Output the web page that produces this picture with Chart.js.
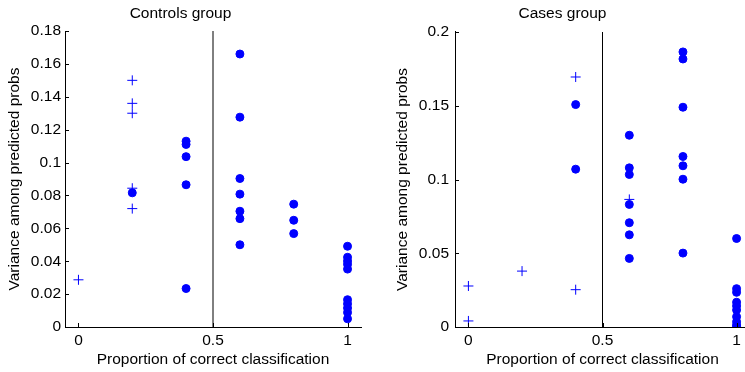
<!DOCTYPE html>
<html lang="en">
<head>
<meta charset="UTF-8">
<title>Variance among predicted probs</title>
<style>
  html, body { margin: 0; padding: 0; background: #fff; overflow: hidden; }
  #wrap { position: relative; width: 745px; height: 372px; overflow: hidden; }
  #c1 { position: absolute; left: 0; top: 0; }
  #c2 { position: absolute; left: 375px; top: 0; }
</style>
</head>
<body>
<div id="wrap">
  <canvas id="c1" width="372" height="372"></canvas>
  <canvas id="c2" width="390" height="372"></canvas>
</div>
<script src="https://cdn.jsdelivr.net/npm/chart.js@4.4.0/dist/chart.umd.min.js"></script>
<script>
// --- data ---
const xTicks = [0, 0.5, 1];
const cutoff = 0.5;

// Controls group
const controlsYTicks = [0, 0.02, 0.04, 0.06, 0.08, 0.1, 0.12, 0.14, 0.16, 0.18];
const controlsPlusX = [0, 0.2, 0.2, 0.2, 0.2, 0.2];
const controlsPlusY = [0.0287, 0.150, 0.136, 0.130, 0.0844, 0.072];
const controlsDotX = [0.2,
  0.4, 0.4, 0.4, 0.4, 0.4,
  0.6, 0.6, 0.6, 0.6, 0.6, 0.6, 0.6,
  0.8, 0.8, 0.8,
  1, 1, 1, 1, 1, 1, 1, 1, 1, 1];
const controlsDotY = [0.0816,
  0.113, 0.111, 0.1036, 0.0865, 0.0234,
  0.166, 0.1276, 0.0903, 0.0808, 0.0704, 0.0659, 0.050,
  0.0747, 0.0649, 0.0568,
  0.0491, 0.0424, 0.0401, 0.0381, 0.0352, 0.0166, 0.0141, 0.0115, 0.0088, 0.0050];

// Cases group
const casesYTicks = [0, 0.05, 0.1, 0.15, 0.2];
const casesPlusX = [0, 0, 0.2, 0.4, 0.4, 0.6];
const casesPlusY = [0.0278, 0.0041, 0.0379, 0.1695, 0.0253, 0.0865];
const casesDotX = [0.4, 0.4,
  0.6, 0.6, 0.6, 0.6, 0.6, 0.6, 0.6,
  0.8, 0.8, 0.8, 0.8, 0.8, 0.8, 0.8,
  1, 1, 1, 1, 1, 1, 1, 1, 1, 1];
const casesDotY = [0.1508, 0.107,
  0.130, 0.1079, 0.1034, 0.0831, 0.0707, 0.0625, 0.0465,
  0.1865, 0.1817, 0.149, 0.1156, 0.1093, 0.1002, 0.0501,
  0.060, 0.026, 0.0235, 0.0168, 0.0143, 0.0115, 0.007, 0.0036, 0.0014, 0.0002];

const blue = '#0000ff';
const font = { family: '"Liberation Sans", Arial, sans-serif', size: 15.5, weight: 'normal' };

function pts(xs, ys) {
  return xs.map((x, i) => ({ x: x, y: ys[i] }));
}

// small inward tick marks, matlab style
const innerTicks = {
  id: 'innerTicks',
  afterDatasetsDraw(chart) {
    const { ctx, chartArea, scales } = chart;
    ctx.save();
    ctx.strokeStyle = '#000';
    ctx.lineWidth = 1;
    ctx.beginPath();
    scales.y.ticks.forEach(t => {
      const py = Math.round(scales.y.getPixelForValue(t.value)) + 0.5;
      ctx.moveTo(chartArea.left, py);
      ctx.lineTo(chartArea.left + 4, py);
    });
    scales.x.ticks.forEach(t => {
      const px = Math.round(scales.x.getPixelForValue(t.value)) + 0.5;
      ctx.moveTo(px, chartArea.bottom);
      ctx.lineTo(px, chartArea.bottom - 4);
    });
    ctx.stroke();
    ctx.restore();
  }
};

function makeChart(id, title, plusX, plusY, dotX, dotY, yTicks, lay) {
  const yMax = yTicks[yTicks.length - 1];
  return new Chart(document.getElementById(id), {
    type: 'scatter',
    data: {
      datasets: [
        {
          data: [{ x: cutoff, y: 0 }, { x: cutoff, y: yMax }],
          showLine: true,
          borderColor: '#000',
          borderWidth: 1,
          pointRadius: 0
        },
        {
          data: pts(plusX, plusY),
          pointStyle: 'cross',
          pointRadius: 5,
          borderColor: blue,
          borderWidth: 1
        },
        {
          data: pts(dotX, dotY),
          pointStyle: 'circle',
          pointRadius: 4,
          backgroundColor: blue,
          borderColor: blue,
          borderWidth: 1
        }
      ]
    },
    options: {
      responsive: false,
      animation: false,
      layout: { padding: { left: 0, right: lay.right, top: 0, bottom: 0 } },
      plugins: {
        legend: { display: false },
        tooltip: { enabled: false },
        title: {
          display: true,
          text: title,
          color: '#000',
          font: font,
          padding: { top: 4.7, bottom: lay.titleBottom }
        }
      },
      scales: {
        x: {
          type: 'linear',
          min: -0.05,
          max: 1.05,
          grid: { display: false, drawTicks: false, tickLength: 0 },
          border: { display: true, color: '#000' },
          afterBuildTicks: s => { s.ticks = xTicks.map(v => ({ value: v })); },
          afterFit: s => { s.height = 45; },
          ticks: { color: '#000', font: font, padding: 4, maxRotation: 0, callback: v => String(v) },
          title: {
            display: true,
            text: 'Proportion of correct classification',
            color: '#000',
            font: font,
            padding: { top: 0, bottom: 3 }
          }
        },
        y: {
          type: 'linear',
          min: 0,
          max: yMax,
          grid: { display: false, drawTicks: false, tickLength: 0 },
          border: { display: true, color: '#000' },
          afterBuildTicks: s => { s.ticks = yTicks.map(v => ({ value: v })); },
          afterFit: s => { s.width = lay.yWidth; },
          ticks: { color: '#000', font: font, padding: lay.yPad, callback: v => String(v) },
          title: {
            display: true,
            text: 'Variance among predicted probs',
            color: '#000',
            font: font,
            padding: { top: lay.yTitleTop, bottom: 0 }
          }
        }
      }
    },
    plugins: [innerTicks]
  });
}

makeChart('c1', 'Controls group', controlsPlusX, controlsPlusY, controlsDotX, controlsDotY, controlsYTicks,
  { right: 11, titleBottom: 7.7, yWidth: 65, yPad: 4, yTitleTop: 5.5 });
makeChart('c2', 'Cases group', casesPlusX, casesPlusY, casesDotX, casesDotY, casesYTicks,
  { right: 15, titleBottom: 8.7, yWidth: 80, yPad: 6, yTitleTop: 18.7 });
</script>
</body>
</html>
